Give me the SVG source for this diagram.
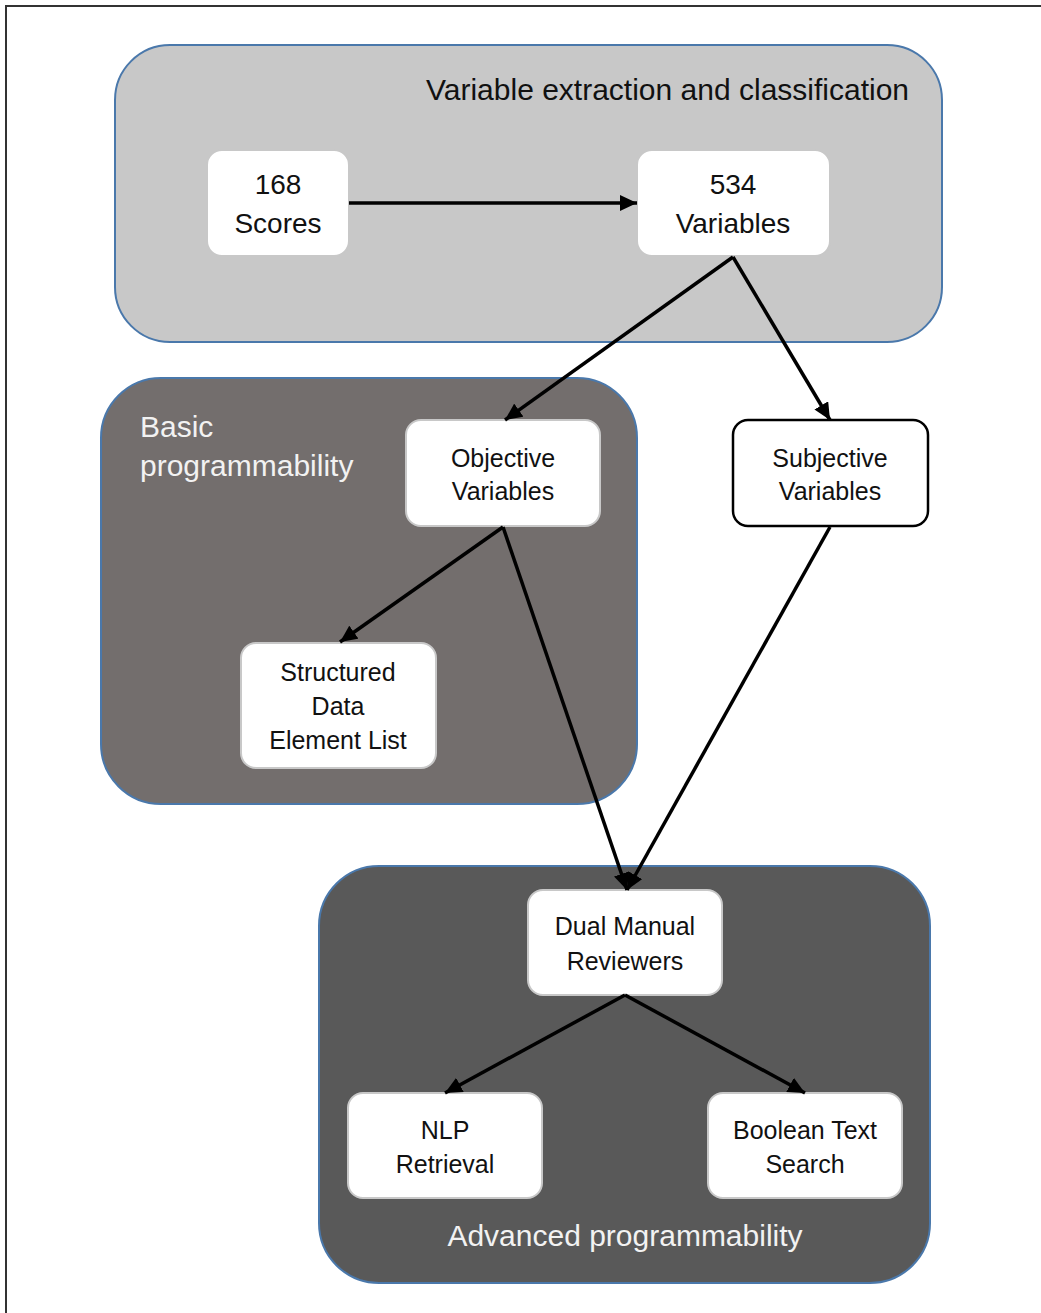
<svg xmlns="http://www.w3.org/2000/svg" width="1041" height="1313" viewBox="0 0 1041 1313">
<style>
.frame{fill:none;stroke:#333;stroke-width:2}
.c1{fill:#c8c8c8;stroke:#4a78ab;stroke-width:2}
.c2{fill:#736e6d;stroke:#4a78ab;stroke-width:2}
.c3{fill:#595959;stroke:#4a78ab;stroke-width:2}
.node{fill:#fff;stroke:#c8c8c8;stroke-width:2}
.nodeb{fill:#fff;stroke:#000;stroke-width:2.5}
.t{font-family:"Liberation Sans",Arial,sans-serif;fill:#111;text-anchor:middle}
.lbl{font-family:"Liberation Sans",Arial,sans-serif;fill:#f2f2f2}
.edge{stroke:#000;stroke-width:3.5;fill:none;marker-end:url(#ah)}
</style>
<defs>
<marker id="ah" markerUnits="userSpaceOnUse" markerWidth="18" markerHeight="16" refX="17" refY="8" orient="auto">
<path d="M0,0 L17,8 L0,16 Z" fill="#000"/>
</marker>
</defs>
<rect width="1041" height="1313" fill="#fff"/>
<path class="frame" d="M6,1313 L6,6 L1041,6"/>

<g id="group-extraction">
<rect class="c1" x="115" y="45" width="827" height="297" rx="55"/>
<text class="t" x="426" y="100" font-size="30" style="text-anchor:start;fill:#111">Variable extraction and classification</text>
</g>
<g id="group-basic">
<rect class="c2" x="101" y="378" width="536" height="426" rx="60"/>
<text class="lbl" x="140" y="437" font-size="30">Basic</text>
<text class="lbl" x="140" y="476" font-size="30">programmability</text>
</g>
<g id="group-advanced">
<rect class="c3" x="319" y="866" width="611" height="417" rx="60"/>
<text class="lbl" x="625" y="1246" font-size="30" text-anchor="middle">Advanced programmability</text>
</g>

<g id="node-scores">
<rect class="node" x="207" y="150" width="142" height="106" rx="15"/>
<text class="t" x="278" y="194" font-size="28">168</text>
<text class="t" x="278" y="233" font-size="28">Scores</text>
</g>
<g id="node-variables">
<rect class="node" x="637" y="150" width="193" height="106" rx="15"/>
<text class="t" x="733" y="194" font-size="28">534</text>
<text class="t" x="733" y="233" font-size="28">Variables</text>
</g>
<g id="node-objective">
<rect class="node" x="406" y="420" width="194" height="106" rx="15"/>
<text class="t" x="503" y="467" font-size="25">Objective</text>
<text class="t" x="503" y="500" font-size="25">Variables</text>
</g>
<g id="node-subjective">
<rect class="nodeb" x="733" y="420" width="195" height="106" rx="15"/>
<text class="t" x="830" y="467" font-size="25">Subjective</text>
<text class="t" x="830" y="500" font-size="25">Variables</text>
</g>
<g id="node-structured">
<rect class="node" x="241" y="643" width="195" height="125" rx="15"/>
<text class="t" x="338" y="681" font-size="25">Structured</text>
<text class="t" x="338" y="715" font-size="25">Data</text>
<text class="t" x="338" y="749" font-size="25">Element List</text>
</g>
<g id="node-dual">
<rect class="node" x="528" y="890" width="194" height="105" rx="15"/>
<text class="t" x="625" y="935" font-size="25">Dual Manual</text>
<text class="t" x="625" y="970" font-size="25">Reviewers</text>
</g>
<g id="node-nlp">
<rect class="node" x="348" y="1093" width="194" height="105" rx="15"/>
<text class="t" x="445" y="1139" font-size="25">NLP</text>
<text class="t" x="445" y="1173" font-size="25">Retrieval</text>
</g>
<g id="node-boolean">
<rect class="node" x="708" y="1093" width="194" height="105" rx="15"/>
<text class="t" x="805" y="1139" font-size="25">Boolean Text</text>
<text class="t" x="805" y="1173" font-size="25">Search</text>
</g>

<g id="connectors">
<line class="edge" x1="349" y1="203" x2="637" y2="203"/>
<line class="edge" x1="733" y1="257" x2="505" y2="420"/>
<line class="edge" x1="733" y1="257" x2="830" y2="420"/>
<line class="edge" x1="503" y1="527" x2="340" y2="642"/>
<line class="edge" x1="503" y1="527" x2="627" y2="890"/>
<line class="edge" x1="830" y1="527" x2="627" y2="890"/>
<line class="edge" x1="625" y1="995" x2="445" y2="1093"/>
<line class="edge" x1="625" y1="995" x2="805" y2="1093"/>
</g>
</svg>
